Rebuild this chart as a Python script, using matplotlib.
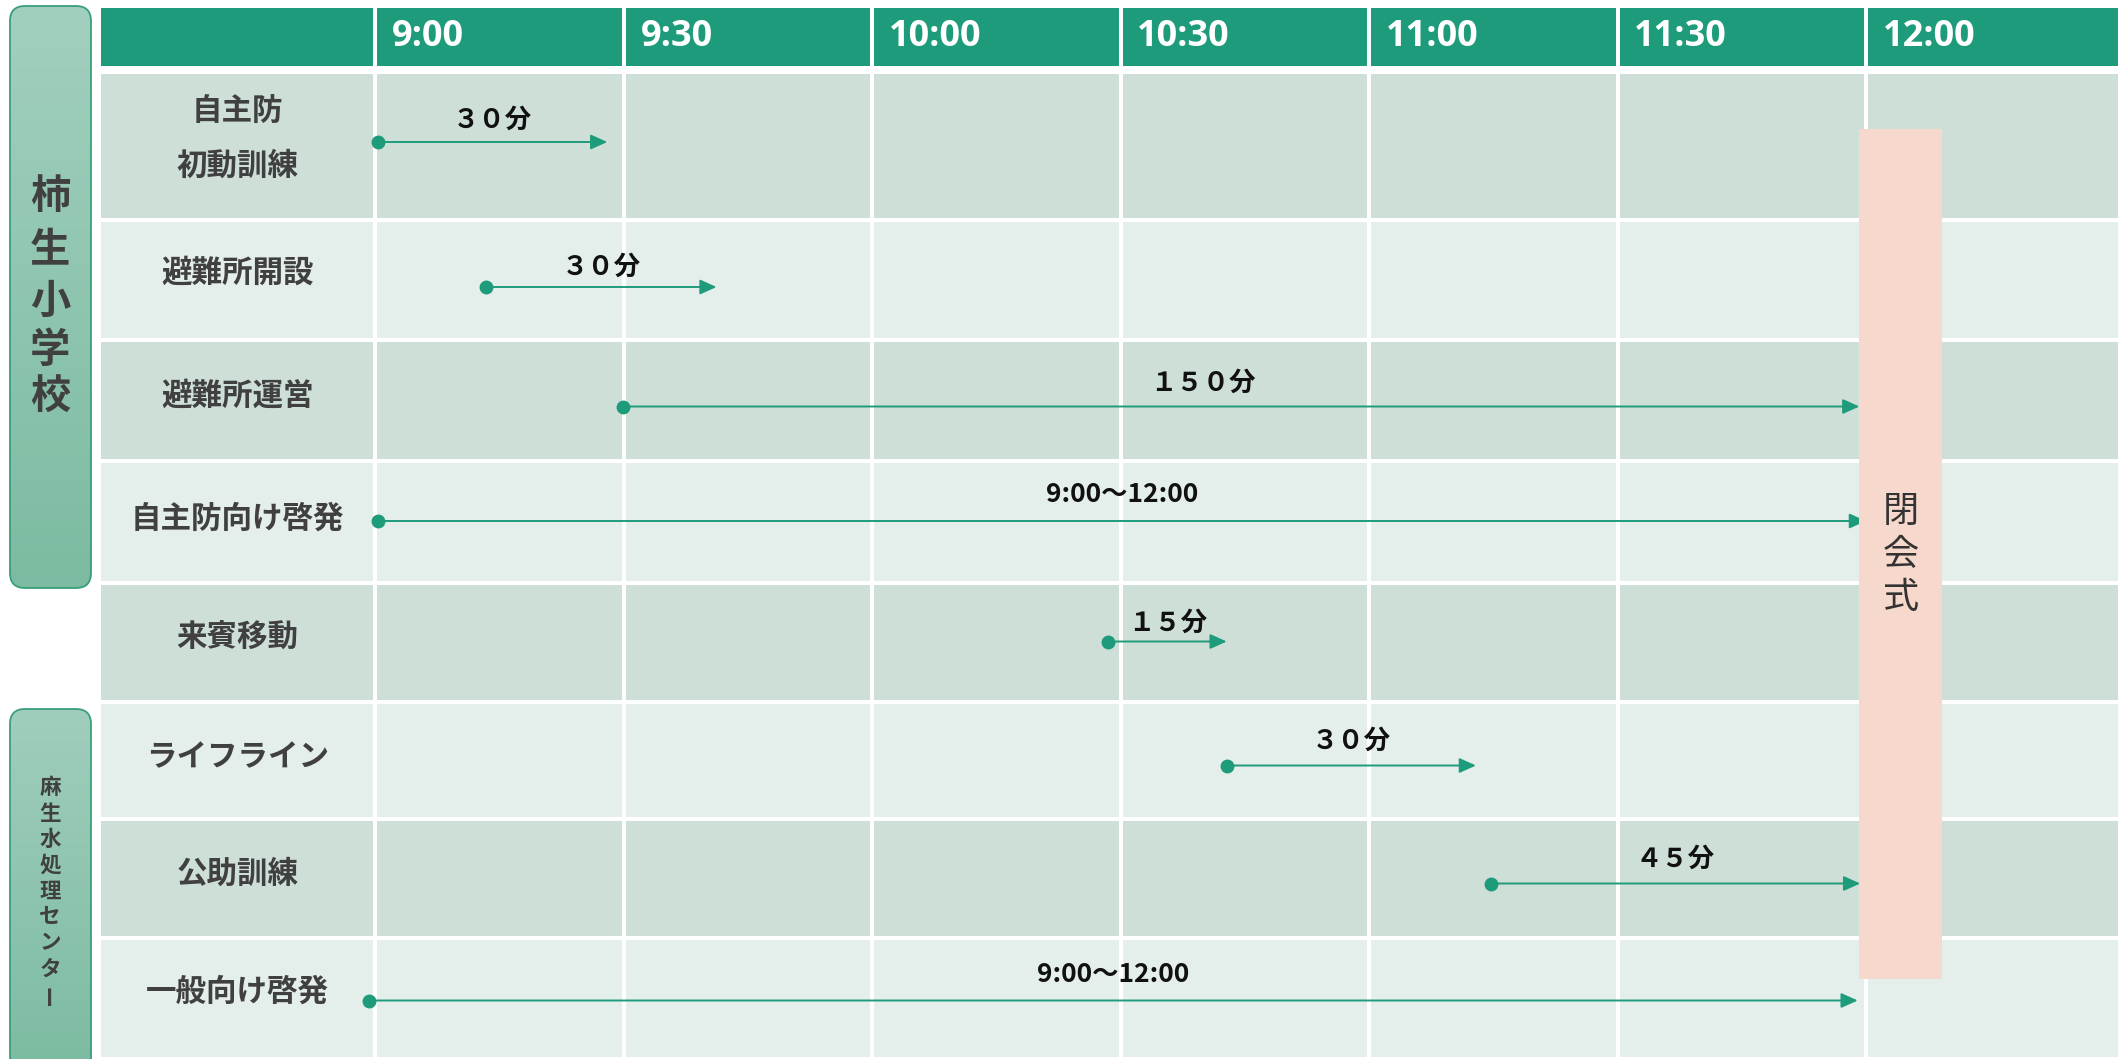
import matplotlib
matplotlib.use('Agg')
import matplotlib.pyplot as plt
import numpy as np
from matplotlib.patches import Rectangle, FancyBboxPatch

plt.rcParams['font.family'] = ['Noto Sans CJK JP', 'DejaVu Sans']

# ---------------- data ----------------
time_labels = ['9:00', '9:30', '10:00', '10:30', '11:00', '11:30', '12:00']
time_ticks = [0, 30, 60, 90, 120, 150, 180]          # minutes after 9:00
tasks = ['自主防\n初動訓練', '避難所開設', '避難所運営', '自主防向け啓発',
         '来賓移動', 'ライフライン', '公助訓練', '一般向け啓発']
start_min = [0.3, 13.3, 29.9, 0.3, 88.5, 102.8, 134.7, -0.8]
end_min = [28.0, 41.2, 179.2, 180.0, 102.8, 132.9, 179.3, 179.0]
duration_labels = ['３０分', '３０分', '１５０分', '9:00～12:00',
                   '１５分', '３０分', '４５分', '9:00～12:00']
groups = ['柿生小学校', '麻生水処理センター']
closing_label = '閉会式'
closing_start = 179.2
closing_end = 189.2

# ---------------- layout ----------------
W, H = 2125, 1059
PX_PER_MIN = 8.281
X0_PX = 375.4                          # pixel x of 9:00
xlim = (-X0_PX / PX_PER_MIN, (W - X0_PX) / PX_PER_MIN)
label_col_left = (99 - X0_PX) / PX_PER_MIN
table_right = (2120 - X0_PX) / PX_PER_MIN

row_edges = [6, 66, 72, 220, 340, 461, 583, 702, 819, 938, 1059]
header = (row_edges[0], row_edges[1])
rows = [(row_edges[i], row_edges[i + 1]) for i in range(2, len(row_edges) - 1)]
arrow_dy = [-4, 7, 6, -1, -1, 5, 5, 2]
label_dy = [-8, -7, -5, -3, -5, -3, -5, -7]
label_gap = [22, 20, 23, 27, 18, 24, 24, 26]
text_dx = [0, 0, -4.6, 0, 0, 0, 0, 0]

GREEN = '#1E9B7A'
DARK = '#CEDFD7'
LIGHT = '#E4EEEA'
CLOSE = '#F7D8CC'
GRAY = '#404040'

fig = plt.figure(figsize=(W / 100, H / 100), dpi=100)
ax = fig.add_axes([0, 0, 1, 1])
ax.set_xlim(*xlim)
ax.set_ylim(H, 0)
ax.axis('off')

gx = 4 / PX_PER_MIN   # white gap in minutes
gy = 4

col_edges = [label_col_left] + time_ticks + [table_right]

def cell(x0, x1, y0, y1, color, z=1):
    ax.add_patch(Rectangle((x0 + gx / 2, y0 + gy / 2), (x1 - x0) - gx,
                           (y1 - y0) - gy, facecolor=color, edgecolor='none',
                           zorder=z))

# header
for j in range(len(col_edges) - 1):
    cell(col_edges[j], col_edges[j + 1], header[0], header[1] + 2, GREEN)
for t, lab in zip(time_ticks, time_labels):
    ax.text(t + 2.0, (header[0] + header[1]) / 2 + 1, lab, color='white',
            fontsize=26, fontweight='bold', family=['Open Sans'],
            ha='left', va='center', zorder=3)

# body rows
for i, (y0, y1) in enumerate(rows):
    color = DARK if i % 2 == 0 else LIGHT
    for j in range(len(col_edges) - 1):
        cell(col_edges[j], col_edges[j + 1], y0, y1, color)
    yc = (y0 + y1) / 2
    ax.text((label_col_left + 0) / 2, yc + label_dy[i], tasks[i], color=GRAY,
            fontsize=22, fontweight='bold', ha='center', va='center',
            linespacing=1.9, zorder=3)
    ya = yc + arrow_dy[i]
    ax.annotate('', xy=(end_min[i], ya), xytext=(start_min[i], ya),
                arrowprops=dict(arrowstyle='-|>,head_length=1.0,head_width=0.45',
                                color=GREEN, lw=1.4, shrinkA=0, shrinkB=0),
                zorder=4)
    ax.plot([start_min[i]], [ya], 'o', color=GREEN, markersize=10,
            markeredgewidth=0, zorder=5)
    ax.text((start_min[i] + end_min[i]) / 2 + text_dx[i], ya - label_gap[i],
            duration_labels[i], color='#111111', fontsize=19,
            fontweight='bold', ha='center', va='center', zorder=5)

# closing ceremony bar
ax.add_patch(Rectangle((closing_start, 129), closing_end - closing_start,
                       979 - 129, facecolor=CLOSE, edgecolor='none', zorder=6))
for k, ch in enumerate(closing_label):
    ax.text((closing_start + closing_end) / 2, 512 + 43 * k, ch, color='#333333',
            fontsize=26, ha='center', va='center', zorder=7)

# ---------------- group boxes (pixel axes) ----------------
ax2 = fig.add_axes([0, 0, 1, 1])
ax2.set_facecolor('none')
ax2.axis('off')

def group_box(x0, x1, y0, y1, top, bot):
    patch = FancyBboxPatch((x0, y0), x1 - x0, y1 - y0,
                           boxstyle='round,pad=0,rounding_size=15',
                           facecolor='none', edgecolor='#3A9E7C', lw=1.3,
                           zorder=3)
    ax2.add_patch(patch)
    n = 256
    c0 = np.array(top) / 255
    c1 = np.array(bot) / 255
    grad = c0[None, :] + (c1 - c0)[None, :] * np.linspace(0, 1, n)[:, None]
    img = ax2.imshow(grad[:, None, :], extent=[x0, x1, y1, y0], aspect='auto',
                     origin='upper', zorder=2, interpolation='bilinear')
    img.set_clip_path(patch)

group_box(10, 91, 6, 588, (162, 208, 190), (124, 187, 161))
group_box(10, 91, 709, 1075, (160, 206, 188), (124, 187, 161))
ax2.set_xlim(0, W)
ax2.set_ylim(H, 0)

big_y = [196, 251, 301, 350, 396]
for ch, y in zip(groups[0], big_y):
    ax2.text(50, y, ch, color=GRAY, fontsize=29, fontweight='bold',
             ha='center', va='center', zorder=4)
for k, ch in enumerate(groups[1]):
    ax2.text(50, 787 + 26 * k, ch, color=GRAY, fontsize=15.5,
             fontweight='bold', ha='center', va='center', zorder=4,
             rotation=90 if ch == 'ー' else 0)

fig.savefig('out.png', dpi=100)
